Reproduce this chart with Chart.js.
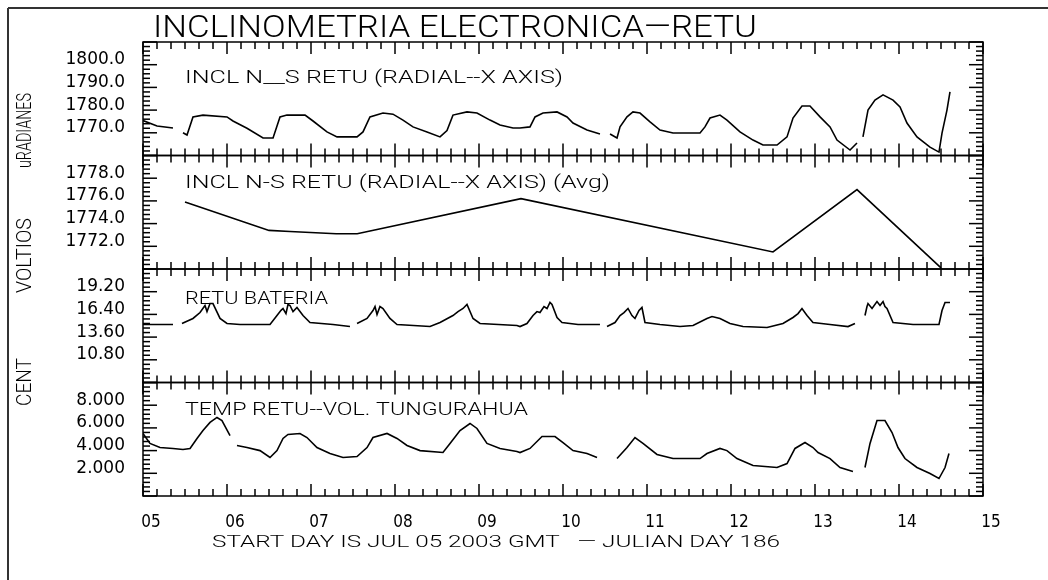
<!DOCTYPE html>
<html lang="es">
<head>
<meta charset="UTF-8" />
<title>Inclinometria Electronica - RETU</title>
<script src="https://cdn.jsdelivr.net/npm/chart.js@4.4.1/dist/chart.umd.min.js"></script>
<style>
  html, body { margin: 0; padding: 0; background: #fff; }
</style>
</head>
<body>
<canvas id="chart" width="1048" height="580"></canvas>
<script>
// x values are days of July 2003 (start day 05)
const inclDays = [5.000, 5.167, 5.357, 5.42, 5.476, 5.524, 5.595, 5.714, 6.000, 6.071, 6.238, 6.429, 6.548, 6.631, 6.714, 6.929, 7.024, 7.190, 7.310, 7.548, 7.619, 7.702, 7.857, 7.976, 8.095, 8.214, 8.381, 8.536, 8.619, 8.690, 8.857, 8.976, 9.131, 9.250, 9.405, 9.488, 9.607, 9.667, 9.762, 9.929, 10.048, 10.119, 10.286, 10.440, 10.50, 10.560, 10.643, 10.679, 10.762, 10.833, 10.917, 11.036, 11.155, 11.310, 11.631, 11.690, 11.750, 11.869, 11.952, 12.107, 12.262, 12.381, 12.548, 12.667, 12.738, 12.845, 12.940, 13.060, 13.179, 13.262, 13.417, 13.500, 13.53, 13.571, 13.631, 13.714, 13.810, 13.929, 14.012, 14.095, 14.214, 14.369, 14.476, 14.512, 14.571, 14.607];
const inclVals = [1775.4, 1773.0, 1772.1, null, 1770.0, 1769.0, 1777.0, 1777.8, 1777.0, 1775.2, 1772.0, 1767.7, 1767.7, 1777.0, 1777.8, 1777.8, 1775.2, 1770.4, 1768.2, 1768.2, 1770.4, 1777.0, 1778.7, 1778.2, 1775.6, 1772.6, 1770.4, 1768.2, 1771.0, 1777.8, 1779.2, 1778.7, 1775.6, 1773.4, 1772.1, 1772.1, 1772.6, 1777.0, 1778.7, 1779.2, 1777.0, 1774.3, 1771.2, 1769.5, null, 1769.5, 1767.7, 1772.6, 1777.0, 1779.2, 1778.7, 1774.8, 1771.2, 1769.9, 1769.9, 1772.6, 1776.5, 1777.8, 1775.6, 1770.4, 1766.8, 1764.6, 1764.6, 1768.2, 1776.5, 1781.8, 1781.8, 1777.0, 1772.6, 1766.8, 1762.4, 1765.5, null, 1768.2, 1780.0, 1784.4, 1786.7, 1784.4, 1781.4, 1774.3, 1768.2, 1763.7, 1761.5, 1769.9, 1780.0, 1788.0];

const avgDays = [5.5, 6.5, 6.75, 7.3, 7.55, 9.5, 12.5, 13.5, 14.5];
const avgVals = [1775.9, 1773.4, 1773.3, 1773.1, 1773.1, 1776.2, 1771.5, 1777.0, 1770.1];

const battDays = [5.000, 5.357, 5.41, 5.464, 5.595, 5.679, 5.738, 5.762, 5.798, 5.833, 5.917, 6.000, 6.155, 6.512, 6.595, 6.643, 6.667, 6.702, 6.726, 6.750, 6.786, 6.833, 6.905, 6.988, 7.262, 7.464, 7.50, 7.548, 7.667, 7.738, 7.762, 7.786, 7.821, 7.857, 7.940, 8.024, 8.417, 8.536, 8.690, 8.750, 8.810, 8.857, 8.929, 9.012, 9.452, 9.488, 9.571, 9.643, 9.690, 9.726, 9.774, 9.810, 9.845, 9.869, 9.929, 9.988, 10.179, 10.440, 10.50, 10.524, 10.619, 10.679, 10.726, 10.774, 10.821, 10.857, 10.905, 10.940, 10.976, 11.155, 11.393, 11.548, 11.714, 11.774, 11.869, 11.988, 12.143, 12.429, 12.619, 12.738, 12.798, 12.845, 12.905, 12.976, 13.179, 13.393, 13.476, 13.52, 13.595, 13.619, 13.631, 13.679, 13.738, 13.774, 13.810, 13.833, 13.857, 13.929, 14.167, 14.476, 14.512, 14.548, 14.607];
const battVals = [15.15, 15.15, null, 15.28, 15.90, 16.63, 17.50, 16.75, 17.74, 17.74, 15.90, 15.28, 15.15, 15.15, 16.26, 16.90, 17.13, 16.50, 17.62, 17.50, 16.75, 17.25, 16.26, 15.40, 15.15, 14.90, null, 15.28, 15.90, 16.88, 17.37, 16.38, 17.37, 17.13, 15.90, 15.15, 14.90, 15.40, 16.26, 16.75, 17.13, 17.62, 15.90, 15.28, 15.03, 14.90, 15.28, 16.26, 16.75, 16.63, 17.37, 17.13, 17.87, 17.62, 16.02, 15.40, 15.15, 15.15, null, 14.90, 15.40, 16.26, 16.63, 17.13, 16.26, 15.90, 16.88, 17.25, 15.40, 15.15, 14.90, 15.03, 15.90, 16.14, 15.90, 15.28, 14.90, 14.78, 15.28, 16.02, 16.50, 17.13, 16.26, 15.40, 15.15, 14.90, 15.28, null, 16.26, 17.37, 17.74, 17.13, 17.99, 17.50, 17.99, 17.37, 17.13, 15.40, 15.15, 15.15, 16.88, 17.87, 17.87];

const tempDays = [5.000, 5.083, 5.202, 5.357, 5.476, 5.560, 5.643, 5.714, 5.798, 5.881, 5.940, 6.036, 6.08, 6.119, 6.238, 6.393, 6.512, 6.595, 6.667, 6.726, 6.869, 6.952, 7.071, 7.226, 7.381, 7.548, 7.667, 7.738, 7.905, 8.024, 8.143, 8.298, 8.571, 8.655, 8.774, 8.893, 8.976, 9.095, 9.250, 9.452, 9.488, 9.607, 9.750, 9.905, 10.000, 10.119, 10.286, 10.405, 10.48, 10.643, 10.762, 10.857, 10.952, 11.119, 11.310, 11.631, 11.714, 11.869, 11.952, 12.071, 12.262, 12.548, 12.667, 12.762, 12.881, 12.976, 13.036, 13.179, 13.298, 13.452, 13.50, 13.595, 13.655, 13.738, 13.833, 13.917, 13.988, 14.071, 14.214, 14.369, 14.476, 14.548, 14.595];
const tempVals = [5.50, 4.63, 4.27, 4.19, 4.10, 4.19, 5.07, 5.77, 6.48, 6.92, 6.65, 5.33, null, 4.45, 4.27, 4.00, 3.39, 4.00, 5.07, 5.42, 5.51, 5.15, 4.27, 3.74, 3.39, 3.48, 4.27, 5.15, 5.51, 5.07, 4.45, 4.00, 3.83, 4.63, 5.77, 6.39, 5.95, 4.63, 4.19, 3.92, 3.83, 4.19, 5.24, 5.24, 4.71, 4.00, 3.74, 3.39, null, 3.30, 4.27, 5.15, 4.63, 3.66, 3.30, 3.30, 3.74, 4.19, 4.00, 3.30, 2.69, 2.51, 2.86, 4.19, 4.71, 4.27, 3.83, 3.30, 2.51, 2.16, null, 2.51, 4.63, 6.65, 6.65, 5.59, 4.27, 3.30, 2.51, 1.98, 1.54, 2.51, 3.74];

// one panel per series, top to bottom
const panelIds = ["y1", "y2", "y3", "y4"];
const panelMins = [1760, 1770, 8, 0];
const panelMaxs = [1810, 1780, 22, 10];
const panelSteps = [10, 2, 2.8, 2];
const panelDecimals = [1, 1, 2, 3];
const panelCaptions = [
  "INCL N__S RETU (RADIAL--X AXIS)",
  "INCL N-S RETU (RADIAL--X AXIS) (Avg)",
  "RETU BATERIA",
  "TEMP RETU--VOL. TUNGURAHUA"
];
const dayMin = 5, dayMax = 15;

const toPoints = (xs, ys) => xs.map((d, i) => ({ x: d, y: ys[i] }));

// draw text squeezed/stretched to a target width (optionally rotated)
function fitText(ctx, txt, x, y, w, font, rotate) {
  ctx.save();
  ctx.font = font;
  ctx.fillStyle = "#000";
  ctx.textBaseline = "alphabetic";
  const m = ctx.measureText(txt).width;
  ctx.translate(x, y);
  if (rotate) ctx.rotate(-Math.PI / 2);
  ctx.scale(w / m, 1);
  ctx.fillText(txt, 0, 0);
  ctx.restore();
}

function line(ctx, x1, y1, x2, y2) {
  ctx.beginPath();
  ctx.moveTo(x1, y1);
  ctx.lineTo(x2, y2);
  ctx.stroke();
}

const framePlugin = {
  id: "frame",
  beforeDraw(chart) {
    const ctx = chart.ctx;
    ctx.save();
    ctx.fillStyle = "#fff";
    ctx.fillRect(0, 0, chart.width, chart.height);
    ctx.restore();
  },
  afterDraw(chart) {
    const { ctx, chartArea: a, scales } = chart;
    const xs = scales.x;
    ctx.save();
    ctx.strokeStyle = "#333";
    ctx.lineWidth = 2;
    // page border, top and left
    line(ctx, 8, 8, chart.width, 8);
    line(ctx, 8, 8, 8, chart.height);

    ctx.strokeStyle = "#000";
    ctx.lineWidth = 1.5;
    panelIds.forEach((id, p) => {
      const s = scales[id];
      ctx.strokeRect(a.left, s.top, a.right - a.left, s.bottom - s.top);
      // y ticks, 5 minor steps per labelled step, both sides pointing in
      const n = Math.round((panelMaxs[p] - panelMins[p]) / panelSteps[p]) * 5;
      for (let k = 0; k <= n; k++) {
        const y = s.getPixelForValue(panelMins[p] + k * panelSteps[p] / 5);
        const len = k % 5 === 0 ? 14 : 7;
        line(ctx, a.left, y, a.left + len, y);
        line(ctx, a.right, y, a.right - len, y);
      }
      // x ticks every 4 hours at top and bottom of each panel
      for (let k = 0; k <= (dayMax - dayMin) * 6; k++) {
        const x = xs.getPixelForValue(dayMin + k / 6);
        const len = k % 6 === 0 ? 12 : 7;
        line(ctx, x, s.top, x, s.top + len);
        line(ctx, x, s.bottom, x, s.bottom - len);
      }
    });
    ctx.restore();

    const f = "Roboto, 'Liberation Sans', Arial, sans-serif";
    fitText(ctx, "INCLINOMETRIA ELECTRONICA\u2014RETU", 153, 37, 604, "300 32px " + f);
    const capY = [83, 188, 304, 415];
    const capW = [378, 425, 143, 343];
    panelCaptions.forEach((t, i) => fitText(ctx, t, 185, capY[i], capW[i], "300 18px " + f));
    fitText(ctx, "uRADIANES", 31, 168, 75, "300 20px " + f, true);
    fitText(ctx, "VOLTIOS", 31, 293, 75, "300 20px " + f, true);
    fitText(ctx, "CENT", 31, 406, 48, "300 20px " + f, true);
    fitText(ctx, "START DAY IS JUL 05 2003 GMT   \u2014 JULIAN DAY 186", 212, 547, 568, "300 16px " + f);
  }
};

function panelAxis(p) {
  return {
    type: "linear",
    position: "left",
    stack: "panels",
    stackWeight: 1,
    weight: 4 - p,
    min: panelMins[p],
    max: panelMaxs[p],
    grid: { display: false, drawTicks: false },
    border: { display: false },
    afterFit: (s) => { s.width = 143; },
    ticks: {
      stepSize: panelSteps[p],
      autoSkip: false,
      padding: 18,
      labelOffset: -5,
      color: "#000",
      font: { family: "'DejaVu Sans', sans-serif", size: 17 },
      callback: (v, i, t) => (i === 0 || i === t.length - 1) ? "" : Number(v).toFixed(panelDecimals[p])
    }
  };
}

const lineStyle = { borderColor: "#000", borderWidth: 1.6, pointRadius: 0, tension: 0, spanGaps: false, fill: false };

new Chart(document.getElementById("chart"), {
  type: "line",
  data: {
    datasets: [
      { ...lineStyle, label: panelCaptions[0], yAxisID: "y1", data: toPoints(inclDays, inclVals) },
      { ...lineStyle, label: panelCaptions[1], yAxisID: "y2", data: toPoints(avgDays, avgVals) },
      { ...lineStyle, label: panelCaptions[2], yAxisID: "y3", data: toPoints(battDays, battVals) },
      { ...lineStyle, label: panelCaptions[3], yAxisID: "y4", data: toPoints(tempDays, tempVals) }
    ]
  },
  options: {
    responsive: false,
    animation: false,
    devicePixelRatio: 1,
    layout: { padding: { left: 0, right: 65, top: 42, bottom: 0 } },
    plugins: { legend: { display: false }, tooltip: { enabled: false }, title: { display: false } },
    scales: {
      x: {
        type: "linear",
        position: "bottom",
        min: dayMin,
        max: dayMax,
        grid: { display: false, drawTicks: false },
        border: { display: false },
        afterFit: (s) => { s.height = 84; },
        ticks: {
          stepSize: 1,
          autoSkip: false,
          maxRotation: 0,
          padding: 16,
          labelOffset: 8,
          color: "#000",
          font: { family: "'Liberation Sans Narrow', 'DejaVu Sans Condensed', 'Liberation Sans', sans-serif", size: 17 },
          callback: (v) => String(v).padStart(2, "0")
        }
      },
      y1: panelAxis(0),
      y2: panelAxis(1),
      y3: panelAxis(2),
      y4: panelAxis(3)
    }
  },
  plugins: [framePlugin]
});
</script>
</body>
</html>
